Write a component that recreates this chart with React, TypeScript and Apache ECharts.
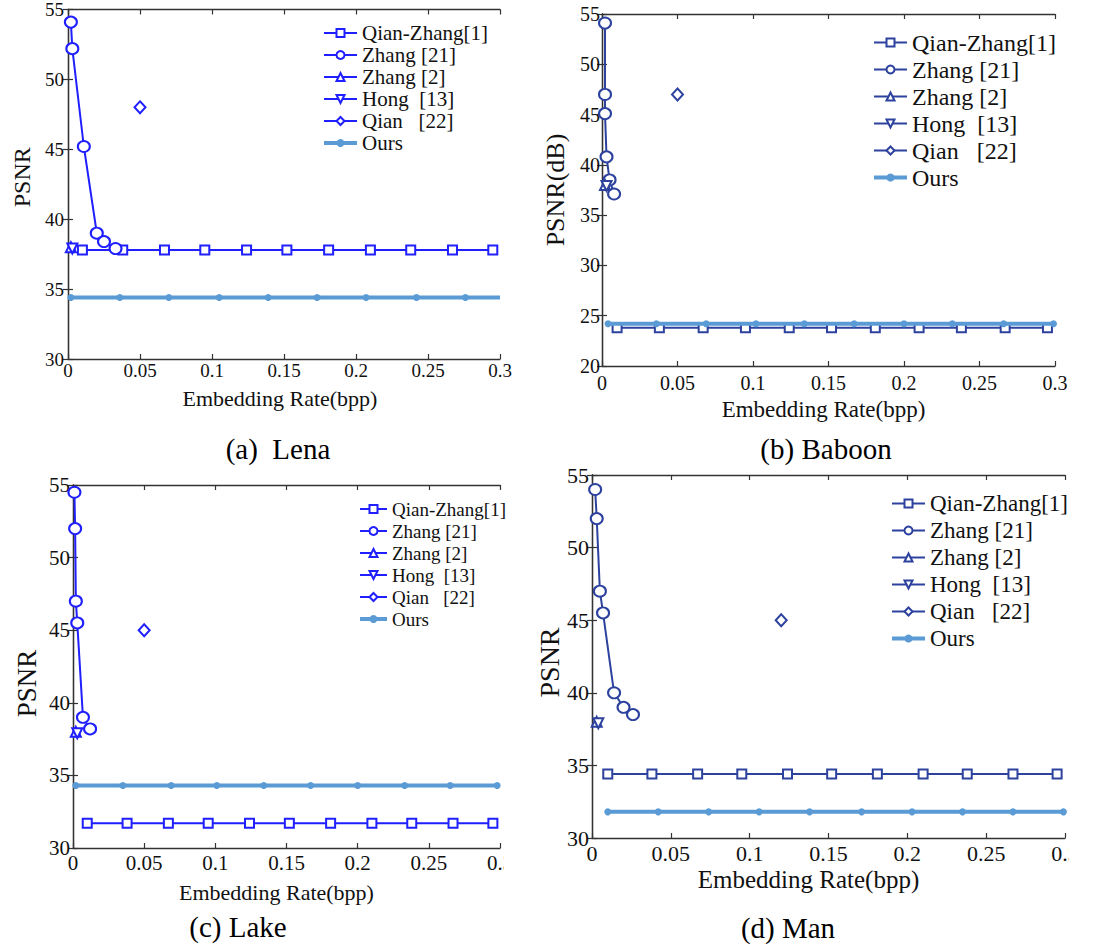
import React, { useEffect, useRef } from 'react';
import * as echarts from 'echarts';

const xTickLabels = ['0', '0.05', '0.1', '0.15', '0.2', '0.25', '0.3'];
const seriesNames = ['Qian-Zhang[1]', 'Zhang [21]', 'Zhang [2]', 'Hong  [13]', 'Qian   [22]', 'Ours'];
const captions = ['(a)  Lena', '(b) Baboon', '(c) Lake', '(d) Man'];

// embedding rates of the Qian-Zhang[1] markers (shared by all four images)
const qianZhangRate = [0.01, 0.038, 0.067, 0.095, 0.124, 0.152, 0.181, 0.21, 0.238, 0.267, 0.295];

// (a) Lena
const lenaQianZhang = [37.8, 37.8, 37.8, 37.8, 37.8, 37.8, 37.8, 37.8, 37.8, 37.8, 37.8];
const lenaZhang21Rate = [0.002, 0.003, 0.011, 0.02, 0.025, 0.033];
const lenaZhang21 = [54.1, 52.2, 45.2, 39.0, 38.4, 37.9];
const lenaZhang2 = [0.002, 38.0];
const lenaHong = [0.003, 37.9];
const lenaQian = [0.05, 48.0];
const lenaOursRate = [0.002, 0.036, 0.07, 0.105, 0.139, 0.173, 0.207, 0.242, 0.276, 0.3];
const lenaOurs = [34.4, 34.4, 34.4, 34.4, 34.4, 34.4, 34.4, 34.4, 34.4, 34.4];

// (b) Baboon
const baboonQianZhang = [23.8, 23.8, 23.8, 23.8, 23.8, 23.8, 23.8, 23.8, 23.8, 23.8, 23.8];
const baboonZhang21Rate = [0.002, 0.002, 0.002, 0.003, 0.005, 0.008];
const baboonZhang21 = [54.1, 47.0, 45.1, 40.8, 38.5, 37.1];
const baboonZhang2 = [0.002, 38.0];
const baboonHong = [0.003, 37.9];
const baboonQian = [0.05, 47.0];
const baboonOursRate = [0.004, 0.036, 0.069, 0.102, 0.134, 0.167, 0.2, 0.232, 0.266, 0.299];
const baboonOurs = [24.2, 24.2, 24.2, 24.2, 24.2, 24.2, 24.2, 24.2, 24.2, 24.2];

// (c) Lake
const lakeQianZhang = [31.7, 31.7, 31.7, 31.7, 31.7, 31.7, 31.7, 31.7, 31.7, 31.7, 31.7];
const lakeZhang21Rate = [0.001, 0.0015, 0.002, 0.003, 0.007, 0.012];
const lakeZhang21 = [54.5, 52.0, 47.0, 45.5, 39.0, 38.2];
const lakeZhang2 = [0.002, 38.0];
const lakeHong = [0.003, 37.9];
const lakeQian = [0.05, 45.0];
const lakeOursRate = [0.002, 0.035, 0.069, 0.101, 0.134, 0.167, 0.2, 0.233, 0.265, 0.298];
const lakeOurs = [34.3, 34.3, 34.3, 34.3, 34.3, 34.3, 34.3, 34.3, 34.3, 34.3];

// (d) Man
const manQianZhang = [34.4, 34.4, 34.4, 34.4, 34.4, 34.4, 34.4, 34.4, 34.4, 34.4, 34.4];
const manZhang21Rate = [0.002, 0.003, 0.005, 0.007, 0.014, 0.02, 0.026];
const manZhang21 = [54.0, 52.0, 47.0, 45.5, 40.0, 39.0, 38.5];
const manZhang2 = [0.003, 38.0];
const manHong = [0.004, 37.9];
const manQian = [0.12, 45.0];
const manOursRate = [0.01, 0.042, 0.074, 0.106, 0.138, 0.171, 0.203, 0.235, 0.267, 0.299];
const manOurs = [31.8, 31.8, 31.8, 31.8, 31.8, 31.8, 31.8, 31.8, 31.8, 31.8];

const FONT = 'Liberation Serif, serif';
const OURS_COLOR = '#5b9bd5';

const panels = [
  {
    key: 'a', color: '#1f1fff', grid: { left: 68, top: 9, width: 432, height: 350 }, yMin: 30,
    yName: 'PSNR', yNameSize: 24, yNameGap: 34, yNamePad: [0, 0, 0, 14], tickSize: 19, yLabelMargin: 4, xLabelMargin: 2,
    xNameSize: 22, xNameGap: 28, xNamePad: [0, 8, 0, 0],
    legend: { left: 322, top: 22, size: 21, lh: 22, iw: 33 },
    caption: { x: 278, y: 449 },
    qz: lenaQianZhang, z21r: lenaZhang21Rate, z21: lenaZhang21, z2: lenaZhang2, hong: lenaHong,
    qian: lenaQian, oursR: lenaOursRate, ours: lenaOurs, lastNoSymbol: true,
  },
  {
    key: 'b', color: '#2d429e', grid: { left: 602, top: 14, width: 453, height: 352 }, yMin: 20,
    yName: 'PSNR(dB)', yNameSize: 26, yNameGap: 34, yNamePad: [0, 0, 0, 0], tickSize: 20, yLabelMargin: 2, xLabelMargin: 7,
    xNameSize: 23, xNameGap: 32, xNamePad: [0, 10, 0, 0],
    legend: { left: 872, top: 29, size: 24, lh: 27, iw: 33 },
    caption: { x: 826, y: 449 },
    qz: baboonQianZhang, z21r: baboonZhang21Rate, z21: baboonZhang21, z2: baboonZhang2, hong: baboonHong,
    qian: baboonQian, oursR: baboonOursRate, ours: baboonOurs, lastNoSymbol: false,
  },
  {
    key: 'c', color: '#1f1fff', grid: { left: 73, top: 485, width: 427, height: 363 }, yMin: 30,
    yName: 'PSNR', yNameSize: 27, yNameGap: 33, yNamePad: [0, 34, 0, 0], tickSize: 21, yLabelMargin: 3, xLabelMargin: 4,
    xNameSize: 22, xNameGap: 33, xNamePad: [0, 20, 0, 0],
    legend: { left: 358, top: 498, size: 19, lh: 22, iw: 27 },
    caption: { x: 238, y: 927 },
    qz: lakeQianZhang, z21r: lakeZhang21Rate, z21: lakeZhang21, z2: lakeZhang2, hong: lakeHong,
    qian: lakeQian, oursR: lakeOursRate, ours: lakeOurs, lastNoSymbol: false,
  },
  {
    key: 'd', color: '#2d429e', grid: { left: 592, top: 475, width: 473, height: 363 }, yMin: 30,
    yName: 'PSNR', yNameSize: 28, yNameGap: 29, yNamePad: [0, 12, 0, 0], tickSize: 22, yLabelMargin: 3, xLabelMargin: 4,
    xNameSize: 25, xNameGap: 29, xNamePad: [0, 40, 0, 0],
    legend: { left: 890, top: 490, size: 23, lh: 27, iw: 33 },
    caption: { x: 788, y: 928 },
    qz: manQianZhang, z21r: manZhang21Rate, z21: manZhang21, z2: manZhang2, hong: manHong,
    qian: manQian, oursR: manOursRate, ours: manOurs, lastNoSymbol: false,
  },
];

const pairs = (xs: number[], ys: number[]) => xs.map((x, i) => [x, ys[i]]);

function buildOption() {
  const grid: any[] = [];
  const xAxis: any[] = [];
  const yAxis: any[] = [];
  const legend: any[] = [];
  const series: any[] = [];
  const graphic: any[] = [];

  panels.forEach((p, i) => {
    grid.push({ ...p.grid, containLabel: false });
    const axisLine = { show: true, lineStyle: { color: '#333', width: 1.3 } };
    const axisTick = { show: true, inside: true, length: 5, lineStyle: { color: '#333', width: 1.2 } };
    xAxis.push({
      type: 'value', gridIndex: i, min: 0, max: 0.3, interval: 0.05, position: 'bottom',
      axisLine, axisTick, splitLine: { show: false },
      axisLabel: {
        formatter: (_v: number, idx: number) => xTickLabels[idx],
        fontSize: p.tickSize, fontFamily: FONT, color: '#111', margin: p.xLabelMargin,
      },
      name: 'Embedding Rate(bpp)', nameLocation: 'middle', nameGap: p.xNameGap,
      nameTextStyle: { fontSize: p.xNameSize, fontFamily: FONT, color: '#111', padding: p.xNamePad },
    });
    xAxis.push({
      type: 'value', gridIndex: i, min: 0, max: 0.3, interval: 0.05, position: 'top',
      axisLine, axisTick, splitLine: { show: false }, axisLabel: { show: false },
    });
    yAxis.push({
      type: 'value', gridIndex: i, min: p.yMin, max: 55, interval: 5, position: 'left',
      axisLine, axisTick, splitLine: { show: false },
      axisLabel: { fontSize: p.tickSize, fontFamily: FONT, color: '#111', margin: p.yLabelMargin },
      name: p.yName, nameLocation: 'middle', nameGap: p.yNameGap,
      nameTextStyle: { fontSize: p.yNameSize, fontFamily: FONT, color: '#111', padding: p.yNamePad },
    });
    yAxis.push({
      type: 'value', gridIndex: i, min: p.yMin, max: 55, interval: 5, position: 'right',
      axisLine, axisTick, splitLine: { show: false }, axisLabel: { show: false },
    });

    const names = seriesNames.map((n) => `${p.key}|${n}`);
    legend.push({
      orient: 'vertical', left: p.legend.left, top: p.legend.top, padding: 0, itemGap: 0,
      itemWidth: p.legend.iw, itemHeight: 10, align: 'left',
      data: names.map((n, k) => (k === 5 ? { name: n, lineStyle: { width: 4 } } : { name: n })),
      formatter: (name: string) => name.split('|')[1],
      textStyle: { fontSize: p.legend.size, fontFamily: FONT, color: '#111', lineHeight: p.legend.lh },
      selectedMode: false,
    });

    const base = { type: 'line', xAxisIndex: 2 * i, yAxisIndex: 2 * i, animation: false };
    const lineStyle = { color: p.color, width: 2 };
    const itemStyle = { color: p.color, borderColor: p.color, borderWidth: 1.6 };

    series.push({
      ...base, name: names[0], data: pairs(qianZhangRate, p.qz), symbol: 'emptyRect', symbolSize: 9,
      lineStyle, itemStyle, z: 3,
    });
    series.push({
      ...base, name: names[1], data: pairs(p.z21r, p.z21), symbol: 'emptyCircle', symbolSize: [12, 11],
      lineStyle, itemStyle, z: 3,
    });
    series.push({
      ...base, name: names[2], data: [p.z2], symbol: 'emptyTriangle', symbolSize: 10,
      lineStyle, itemStyle, z: 3,
    });
    series.push({
      ...base, name: names[3], data: [p.hong], symbol: 'emptyTriangle', symbolSize: 10, symbolRotate: 180,
      lineStyle, itemStyle, z: 3,
    });
    series.push({
      ...base, name: names[4], data: [p.qian], symbol: 'emptyDiamond', symbolSize: [11, 12],
      lineStyle, itemStyle, z: 3,
    });
    const oursData = pairs(p.oursR, p.ours).map((d, k, arr) =>
      p.lastNoSymbol && k === arr.length - 1 ? { value: d, symbol: 'none' } : d
    );
    series.push({
      ...base, name: names[5], data: oursData, symbol: 'circle', symbolSize: 7,
      lineStyle: { color: OURS_COLOR, width: 4 }, itemStyle: { color: OURS_COLOR }, z: 4,
    });

    graphic.push({
      type: 'text', x: p.caption.x, y: p.caption.y,
      style: {
        text: captions[i], fontSize: 29, fontFamily: FONT, fill: '#000',
        textAlign: 'center', textVerticalAlign: 'middle',
      },
    });
  });

  // the original sub-figures were cropped through the last tick label of (c) and (d)
  graphic.push({ type: 'rect', shape: { x: 504, y: 852, width: 29, height: 24 }, style: { fill: '#fff' }, z: 100 });
  graphic.push({ type: 'rect', shape: { x: 1069, y: 841, width: 24, height: 24 }, style: { fill: '#fff' }, z: 100 });

  return { animation: false, backgroundColor: '#fff', grid, xAxis, yAxis, legend, series, graphic };
}

export default function App() {
  const ref = useRef<HTMLDivElement>(null);
  useEffect(() => {
    if (!ref.current) return;
    const chart = echarts.init(ref.current, undefined, { renderer: 'svg' });
    chart.setOption(buildOption() as any);
    return () => chart.dispose();
  }, []);
  return (
    <div
      ref={ref}
      style={{ position: 'absolute', left: 0, top: 0, width: 1093, height: 946, background: '#fff' }}
    />
  );
}
